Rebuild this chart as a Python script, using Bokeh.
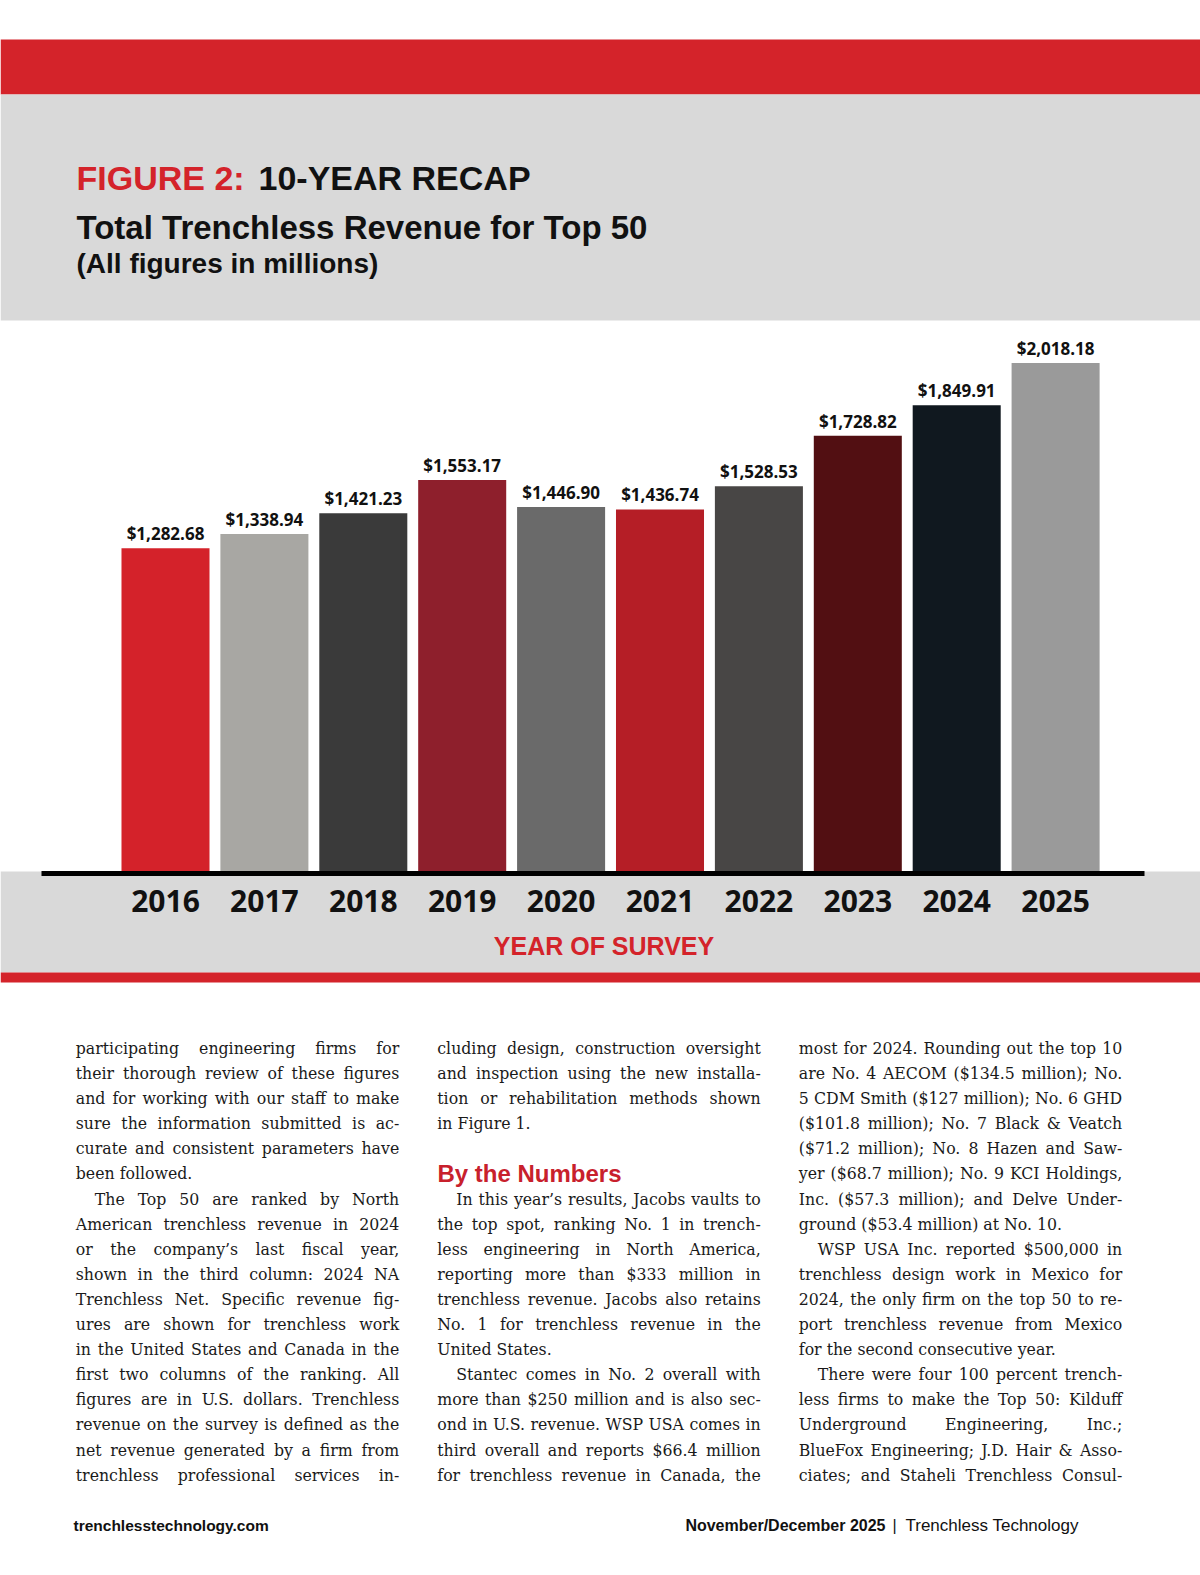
import glob
import numpy as np
from bokeh.plotting import figure
from bokeh.models import Range1d, ColumnDataSource
from bokeh.core.properties import value
from bokeh.embed import file_html
from bokeh.resources import INLINE

# ---------------- data ----------------
years = ["2016", "2017", "2018", "2019", "2020", "2021", "2022", "2023", "2024", "2025"]
revenue = [1282.68, 1338.94, 1421.23, 1553.17, 1446.90, 1436.74, 1528.53, 1728.82, 1849.91, 2018.18]
bar_colors = ["#D4222A", "#A8A7A3", "#3A3A3A", "#8E1F2C", "#6A6A6A",
              "#B51E26", "#484645", "#520F12", "#10181F", "#9A9A9A"]

title_red = "FIGURE 2:"
title_black = "10-YEAR RECAP"
subtitle = "Total Trenchless Revenue for Top 50"
subtitle2 = "(All figures in millions)"
x_title = "YEAR OF SURVEY"

# (indent, justify, text)
col1 = [
    (0, 1, "participating engineering firms for"),
    (0, 1, "their thorough review of these figures"),
    (0, 1, "and for working with our staff to make"),
    (0, 1, "sure the information submitted is ac-"),
    (0, 1, "curate and consistent parameters have"),
    (0, 0, "been followed."),
    (1, 1, "The Top 50 are ranked by North"),
    (0, 1, "American trenchless revenue in 2024"),
    (0, 1, "or the company\u2019s last fiscal year,"),
    (0, 1, "shown in the third column: 2024 NA"),
    (0, 1, "Trenchless Net. Specific revenue fig-"),
    (0, 1, "ures are shown for trenchless work"),
    (0, 1, "in the United States and Canada in the"),
    (0, 1, "first two columns of the ranking. All"),
    (0, 1, "figures are in U.S. dollars. Trenchless"),
    (0, 1, "revenue on the survey is defined as the"),
    (0, 1, "net revenue generated by a firm from"),
    (0, 1, "trenchless professional services in-"),
]
col2_top = [
    (0, 1, "cluding design, construction oversight"),
    (0, 1, "and inspection using the new installa-"),
    (0, 1, "tion or rehabilitation methods shown"),
    (0, 0, "in Figure 1."),
]
col2_heading = "By the Numbers"
col2_bottom = [
    (1, 1, "In this year\u2019s results, Jacobs vaults to"),
    (0, 1, "the top spot, ranking No. 1 in trench-"),
    (0, 1, "less engineering in North America,"),
    (0, 1, "reporting more than $333 million in"),
    (0, 1, "trenchless revenue. Jacobs also retains"),
    (0, 1, "No. 1 for trenchless revenue in the"),
    (0, 0, "United States."),
    (1, 1, "Stantec comes in No. 2 overall with"),
    (0, 1, "more than $250 million and is also sec-"),
    (0, 1, "ond in U.S. revenue. WSP USA comes in"),
    (0, 1, "third overall and reports $66.4 million"),
    (0, 1, "for trenchless revenue in Canada, the"),
]
col3 = [
    (0, 1, "most for 2024. Rounding out the top 10"),
    (0, 1, "are No. 4 AECOM ($134.5 million); No."),
    (0, 1, "5 CDM Smith ($127 million); No. 6 GHD"),
    (0, 1, "($101.8 million); No. 7 Black & Veatch"),
    (0, 1, "($71.2 million); No. 8 Hazen and Saw-"),
    (0, 1, "yer ($68.7 million); No. 9 KCI Holdings,"),
    (0, 1, "Inc. ($57.3 million); and Delve Under-"),
    (0, 0, "ground ($53.4 million) at No. 10."),
    (1, 1, "WSP USA Inc. reported $500,000 in"),
    (0, 1, "trenchless design work in Mexico for"),
    (0, 1, "2024, the only firm on the top 50 to re-"),
    (0, 1, "port trenchless revenue from Mexico"),
    (0, 0, "for the second consecutive year."),
    (1, 1, "There were four 100 percent trench-"),
    (0, 1, "less firms to make the Top 50: Kilduff"),
    (0, 1, "Underground Engineering, Inc.;"),
    (0, 1, "BlueFox Engineering; J.D. Hair & Asso-"),
    (0, 1, "ciates; and Staheli Trenchless Consul-"),
]
footer_left = "trenchlesstechnology.com"
footer_date = "November/December 2025"
footer_mag = "Trenchless Technology"

# ---------------- layout (page pixel space) ----------------
RED = "#D4232A"
GRAY = "#D9D9D9"
W, H = 1200, 1568
BASE_Y = 871          # page y of the zero line
PX_PER_M = 0.252      # pixels per $1M
X0, DX = 165.0, 98.9  # page x of first bar centre, spacing

p = figure(width=W, height=H, x_range=Range1d(0, W), y_range=Range1d(H, 0),
           output_backend="svg", toolbar_location=None, min_border=0,
           x_axis_location=None, y_axis_location=None,
           background_fill_color="white", border_fill_color="white", outline_line_color=None)
p.grid.visible = False

p.extra_x_ranges = {"yr": Range1d((0 - X0) / DX, (W - X0) / DX)}
p.extra_y_ranges = {"rev": Range1d(-(H - BASE_Y) / PX_PER_M, BASE_Y / PX_PER_M)}

# background bands
p.quad(left=[0, 0, 0, 0], right=[W, W, W, W],
       top=[39, 94, 871, 972], bottom=[94, 320, 972, 982],
       fill_color=[RED, GRAY, GRAY, RED], line_color=None)

# header texts
hf = value("Liberation Sans")
p.text(x=[76], y=[177], text=[title_red], text_font=hf, text_font_style="bold",
       text_font_size="34px", text_color=RED, text_baseline="middle")
p.text(x=[258], y=[177], text=[title_black], text_font=hf, text_font_style="bold",
       text_font_size="34px", text_color="#111111", text_baseline="middle")
p.text(x=[76], y=[227], text=[subtitle], text_font=hf, text_font_style="bold",
       text_font_size="33px", text_color="#111111", text_baseline="middle")
p.text(x=[76], y=[263], text=[subtitle2], text_font=hf, text_font_style="bold",
       text_font_size="28px", text_color="#111111", text_baseline="middle")

# bars
src = ColumnDataSource(dict(
    idx=np.arange(len(years)), year=years, revenue=revenue, color=bar_colors,
    label=[f"${v:,.2f}" for v in revenue]))
p.vbar(x="idx", top="revenue", bottom=0, width=0.89, fill_color="color", line_color=None,
       source=src, x_range_name="yr", y_range_name="rev")
p.text(x="idx", y="revenue", text="label", source=src, x_range_name="yr", y_range_name="rev",
       text_align="center", text_baseline="bottom", y_offset=-3,
       text_font=value("Open Sans"), text_font_style="bold", text_font_size="17px",
       text_color="#111111")

# axis line
p.segment(x0=[41], x1=[1144], y0=[873], y1=[873], line_color="black", line_width=5)

# year labels
p.text(x="idx", y=900, text="year", source=src, x_range_name="yr",
       text_align="center", text_baseline="middle",
       text_font=value("Open Sans"), text_font_style="bold", text_font_size="30px",
       text_color="#111111")
p.text(x=[603.5], y=[945], text=[x_title], text_font=hf, text_font_style="bold",
       text_font_size="25px", text_color=RED, text_align="center", text_baseline="middle")

# ---------------- body text (justified columns) ----------------
BODY_PX = 17.5
bf = value("DejaVu Serif Condensed")
PITCH, ROW0 = 25.1, 1047.4
INDENT = 19
COL_W = 323.4

measure = None
try:
    from PIL import ImageFont
    paths = []
    for pat in ["/usr/share/fonts/**/DejaVuSerifCondensed.ttf",
                "/usr/local/share/fonts/**/DejaVuSerifCondensed.ttf",
                "/usr/share/fonts/**/DejaVuSerif-Condensed.ttf"]:
        paths += glob.glob(pat, recursive=True)
    if paths:
        _font = ImageFont.truetype(paths[0], size=int(round(BODY_PX * 4)))
        measure = lambda s: _font.getlength(s) / 4.0
except Exception:
    measure = None

bx, by, bt = [], [], []


def put_lines(lines, left, row_start):
    for k, (ind, just, t) in enumerate(lines):
        y = ROW0 + PITCH * (row_start + k)
        x0 = left + INDENT * ind
        if measure is None:
            bx.append(x0); by.append(y); bt.append(t)
            continue
        words = t.split(" ")
        widths = [measure(w) for w in words]
        sp = measure(" ")
        avail = COL_W - INDENT * ind
        if just and len(words) > 1:
            gap = (avail - sum(widths)) / (len(words) - 1)
            if gap < sp * 0.6:
                gap = sp * 0.6
        else:
            gap = sp
        x = x0
        for w, wd in zip(words, widths):
            bx.append(x); by.append(y); bt.append(w)
            x += wd + gap


put_lines(col1, 75.3, 0)
put_lines(col2_top, 436.8, 0)
put_lines(col2_bottom, 436.8, 6)
put_lines(col3, 798.3, 0)
p.text(x=bx, y=by, text=bt, text_font=bf, text_font_size=f"{BODY_PX}px", text_color="#1A1A1A",
       text_baseline="middle", text_align="left")
p.text(x=[437], y=[ROW0 + PITCH * 5], text=[col2_heading], text_font=hf, text_font_style="bold",
       text_font_size="24px", text_color="#C8202C", text_baseline="middle")

# footer
p.text(x=[73], y=[1525], text=[footer_left], text_font=hf, text_font_style="bold",
       text_font_size="15.5px", text_color="#111111", text_baseline="middle")
p.text(x=[885], y=[1525], text=[footer_date], text_font=hf, text_font_style="bold",
       text_font_size="16px", text_color="#111111", text_baseline="middle", text_align="right")
p.text(x=[894], y=[1525], text=["|"], text_font=hf,
       text_font_size="16px", text_color="#111111", text_baseline="middle", text_align="center")
p.text(x=[905], y=[1525], text=[footer_mag], text_font=hf,
       text_font_size="17px", text_color="#111111", text_baseline="middle", text_align="left")

open("out.html", "w").write(file_html(p, INLINE))
